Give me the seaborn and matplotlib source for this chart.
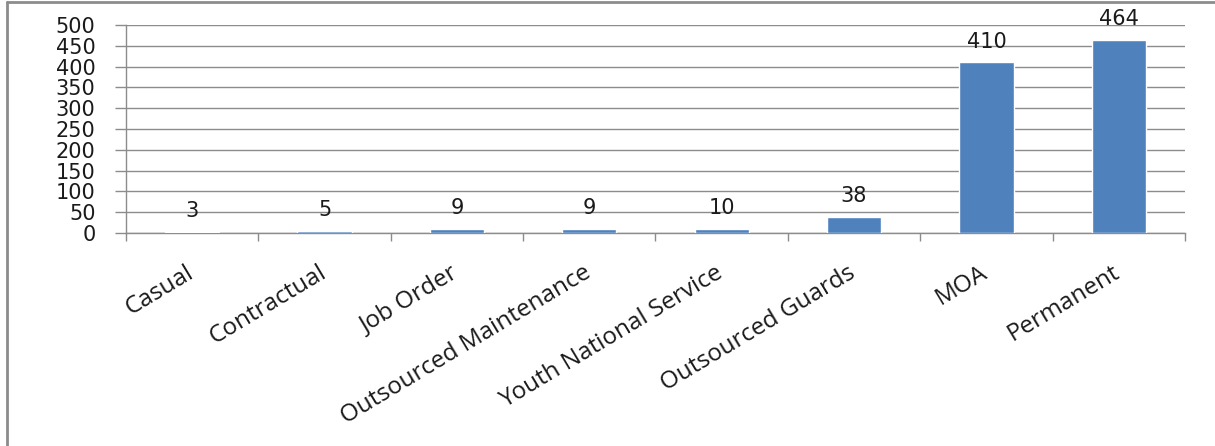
import matplotlib
matplotlib.use("Agg")
import matplotlib.pyplot as plt
from matplotlib.lines import Line2D
import seaborn as sns
import pandas as pd
import numpy as np

categories = ["Casual", "Contractual", "Job Order", "Outsourced Maintenance",
              "Youth National Service", "Outsourced Guards", "MOA", "Permanent"]
counts = [3, 5, 9, 9, 10, 38, 410, 464]
y_ticks = [0, 50, 100, 150, 200, 250, 300, 350, 400, 450, 500]

sns.set_theme(style="white")
plt.rcParams["font.family"] = ["DejaVu Sans"]

df = pd.DataFrame({"category": categories, "count": counts})

fig = plt.figure(figsize=(12.15, 4.46), dpi=100)
ax = fig.add_axes([0.1037, 0.4776, 0.8716, 0.4664])

sns.barplot(data=df, x="category", y="count", color="#4F81BD", width=0.41,
            saturation=1, ax=ax, zorder=3)

ax.set_ylim(0, 500)
ax.set_xlim(-0.5, len(categories) - 0.5)
ax.set_yticks(y_ticks)
ax.set_yticklabels([str(v) for v in y_ticks], fontsize=15, color="#1a1a1a")
ax.yaxis.grid(True, color="#8c8c8c", linewidth=1, zorder=0)
ax.xaxis.grid(False)
ax.set_axisbelow(True)
ax.set_xlabel("")
ax.set_ylabel("")

# category labels anchored just left of each bar centre (ticks hidden),
# tick marks drawn at the category boundaries
label_pos = np.arange(len(categories)) - 0.05
ax.set_xticks(label_pos)
ax.set_xticklabels(categories, rotation=31, ha="right", rotation_mode="anchor",
                   fontsize=17.5, family="Open Sans", color="#1a1a1a")
ax.tick_params(axis="x", which="major", length=0, pad=20)
ax.set_xticks(np.arange(-0.5, len(categories), 1.0), minor=True)
ax.tick_params(axis="x", which="minor", length=6, width=1, color="#8c8c8c",
               direction="out", bottom=True)
ax.tick_params(axis="y", which="major", length=8, width=1, color="#8c8c8c",
               direction="out", left=True, pad=14)

for s in ["top", "right"]:
    ax.spines[s].set_visible(False)
for s in ["left", "bottom"]:
    ax.spines[s].set_color("#8c8c8c")
    ax.spines[s].set_linewidth(1)

for i, v in enumerate(counts):
    ax.annotate(str(v), xy=(i, v), xytext=(0, 15), textcoords="offset points",
                ha="center", va="center", fontsize=15, color="#1a1a1a")

# outer frame: left and top edges
fig.add_artist(Line2D([7 / 1215, 7 / 1215], [0, 1 - 2 / 446],
                      transform=fig.transFigure, color="#8c8c8c", linewidth=2))
fig.add_artist(Line2D([7 / 1215, 1], [1 - 2 / 446, 1 - 2 / 446],
                      transform=fig.transFigure, color="#8c8c8c", linewidth=2))

fig.savefig("out.png", dpi=100, facecolor="white")
